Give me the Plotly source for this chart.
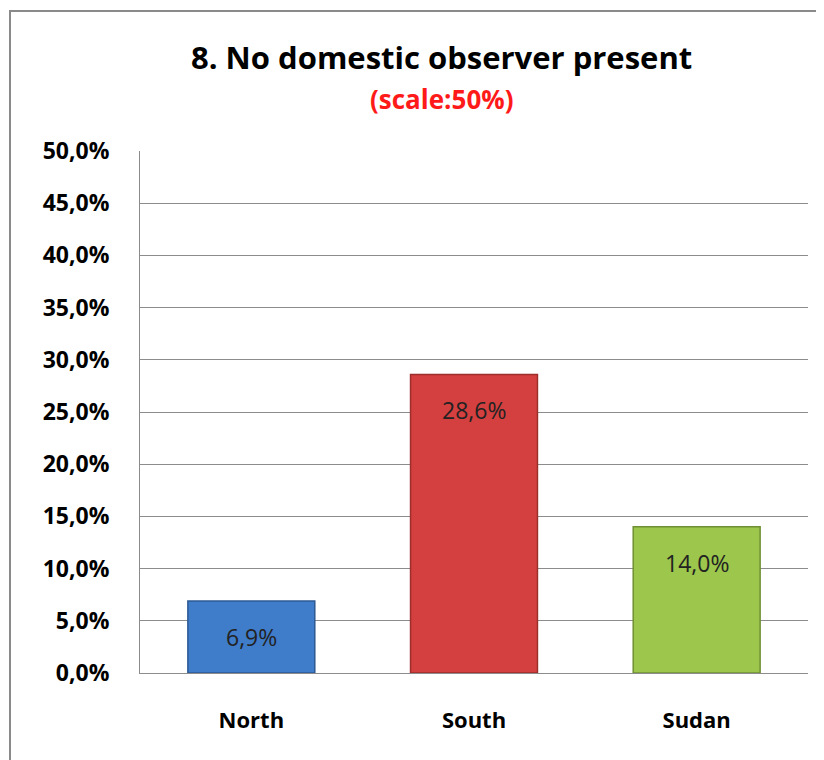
import plotly.graph_objects as go

# Data
regions = ['North', 'South', 'Sudan']
shares = [6.9, 28.6, 14.0]
bar_colors = ['#3f7cca', '#d4403f', '#9cc64c']
edge_colors = ['#2c5a94', '#9c2e2c', '#6f8f33']
tick_values = [0, 5, 10, 15, 20, 25, 30, 35, 40, 45, 50]
tick_labels = ['0,0%', '5,0%', '10,0%', '15,0%', '20,0%', '25,0%',
               '30,0%', '35,0%', '40,0%', '45,0%', '50,0%']
bar_labels = [f'{v:.1f}%'.replace('.', ',') for v in shares]

FONT = 'Open Sans'

fig = go.Figure(go.Bar(
    x=regions, y=shares,
    marker=dict(color=bar_colors, line=dict(color=edge_colors, width=1.5)),
    width=0.57,
))

# value labels sit a little below the top of each bar
for r, v, lab in zip(regions, shares, bar_labels):
    fig.add_annotation(x=r, y=v, text=lab, showarrow=False, yshift=-36,
                       font=dict(family=FONT, size=23, color='#222222'))

# page body has an 8px offset, so margins are shifted to compensate
fig.update_layout(
    width=824, height=760,
    margin=dict(l=132, r=24, t=143, b=95),
    paper_bgcolor='white', plot_bgcolor='white',
    showlegend=False,
    font=dict(family=FONT, color='black'),
)

fig.update_yaxes(
    range=[0, 50], tickvals=tick_values, ticktext=tick_labels,
    showgrid=True, gridcolor='#8c8c8c', gridwidth=1,
    showline=True, linecolor='#8c8c8c', linewidth=1,
    ticks='outside', ticklen=0, ticklabelstandoff=25,
    tickfont=dict(family=FONT, size=23, color='black', weight='bold'),
    zeroline=False,
)
fig.update_xaxes(
    showline=True, linecolor='#8c8c8c', linewidth=1,
    tickfont=dict(family=FONT, size=22, color='black', weight='bold'),
    ticks='outside', ticklen=0, ticklabelstandoff=28,
)

# titles
fig.add_annotation(x=0.452, y=1.224, xref='paper', yref='paper',
                   text='<b>8. No domestic observer present</b>', showarrow=False,
                   font=dict(family=FONT, size=31, color='black'))
fig.add_annotation(x=0.452, y=1.138, xref='paper', yref='paper',
                   text='<b>(scale:50%)</b>', showarrow=False,
                   font=dict(family=FONT, size=26, color='#ff1a1a'))

# outer chart border
fig.add_shape(type='rect', xref='paper', yref='paper',
              x0=-0.1946, x1=1.021, y0=-0.2, y1=1.268,
              line=dict(color='#8a8a8a', width=2), layer='below')

fig.write_html('out.html')
